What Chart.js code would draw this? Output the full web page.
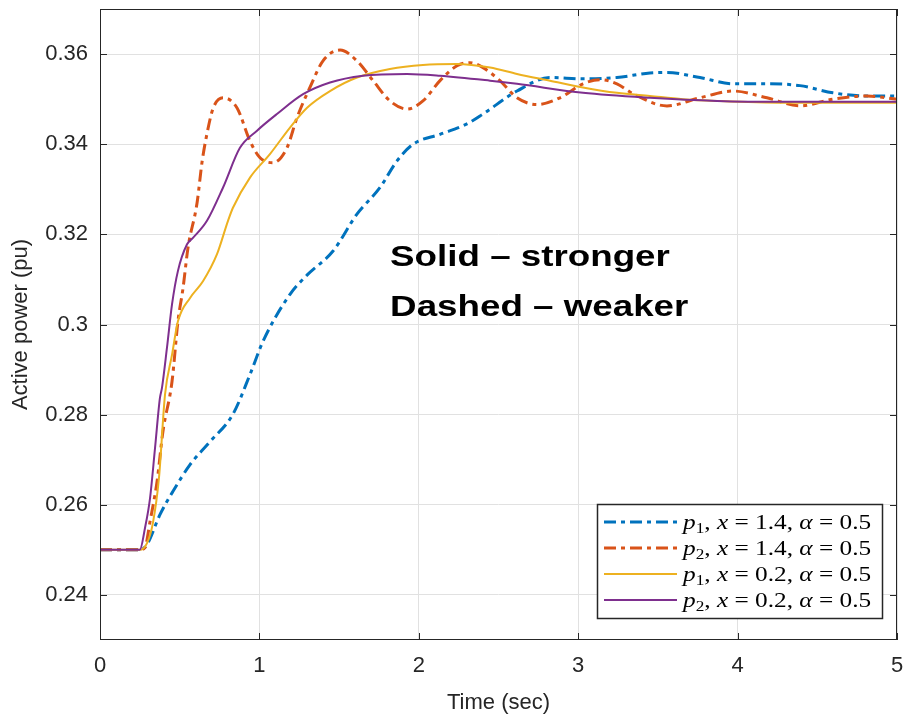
<!DOCTYPE html>
<html><head><meta charset="utf-8">
<script src="https://cdn.jsdelivr.net/npm/chart.js@4/dist/chart.umd.min.js"></script>
<style>html,body{margin:0;padding:0;background:#fff}#wrap{width:904px;height:717px}</style>
</head><body><div id="wrap"><canvas id="c" width="904" height="717"></canvas></div>
<script>
// ---- data ----
const xTicks = [0, 1, 2, 3, 4, 5];
const yTicks = [0.24, 0.26, 0.28, 0.30, 0.32, 0.34, 0.36];
const yTickLabels = ['0.24', '0.26', '0.28', '0.3', '0.32', '0.34', '0.36'];

// p1, x = 1.4 (weaker)
const tP1Weak = [0, 0.25, 0.295, 0.376, 0.458, 0.565, 0.69, 0.834, 0.941, 1.023, 1.192, 1.30, 1.462, 1.612, 1.757, 1.863, 1.964, 2.133, 2.302, 2.403, 2.616, 2.823, 3.03, 3.243, 3.45, 3.557, 3.764, 3.971, 4.184, 4.391, 4.598, 4.812, 5];
const vP1Weak = [0.25, 0.25, 0.2512, 0.2578, 0.2630, 0.2689, 0.2740, 0.2801, 0.2889, 0.2963, 0.3067, 0.3110, 0.3163, 0.3245, 0.3304, 0.3363, 0.3400, 0.3422, 0.3445, 0.3467, 0.3518, 0.3548, 0.3545, 0.3548, 0.3558, 0.3559, 0.3548, 0.3534, 0.3534, 0.3530, 0.3514, 0.3507, 0.3507];
// p2, x = 1.4 (weaker)
const tP2Weak = [0, 0.25, 0.282, 0.314, 0.358, 0.395, 0.452, 0.489, 0.521, 0.552, 0.609, 0.64, 0.671, 0.71, 0.772, 0.859, 0.941, 1.004, 1.085, 1.173, 1.236, 1.317, 1.399, 1.506, 1.612, 1.713, 1.819, 1.926, 2.026, 2.133, 2.24, 2.321, 2.403, 2.509, 2.616, 2.742, 2.886, 3.03, 3.137, 3.243, 3.344, 3.557, 3.764, 3.971, 4.184, 4.391, 4.598, 4.812, 5];
const vP2Weak = [0.25, 0.25, 0.2505, 0.2563, 0.2652, 0.2763, 0.2874, 0.3007, 0.3081, 0.3170, 0.3270, 0.3360, 0.3423, 0.3480, 0.3503, 0.3481, 0.3407, 0.3370, 0.3359, 0.3392, 0.3459, 0.3526, 0.3585, 0.3609, 0.3585, 0.3541, 0.3496, 0.3478, 0.3496, 0.3541, 0.3574, 0.3581, 0.3570, 0.3541, 0.3503, 0.3488, 0.3503, 0.3534, 0.3543, 0.3534, 0.3512, 0.3485, 0.3503, 0.3518, 0.3503, 0.3485, 0.3500, 0.3507, 0.3500];
// p1, x = 0.2 (stronger)
const tP1Strong = [0, 0.25, 0.295, 0.332, 0.37, 0.408, 0.452, 0.489, 0.565, 0.646, 0.734, 0.803, 0.834, 0.941, 1.066, 1.192, 1.299, 1.443, 1.612, 1.819, 2.026, 2.24, 2.447, 2.616, 2.823, 3.03, 3.243, 3.45, 3.657, 3.871, 4.285, 5];
const vP1Strong = [0.25, 0.25, 0.2515, 0.2560, 0.2660, 0.2845, 0.2933, 0.3007, 0.3059, 0.3096, 0.3156, 0.3230, 0.3259, 0.3326, 0.3378, 0.3437, 0.3481, 0.3518, 0.3548, 0.3567, 0.3576, 0.3578, 0.3570, 0.3556, 0.3541, 0.3526, 0.3514, 0.3507, 0.3500, 0.3496, 0.3492, 0.3492];
// p2, x = 0.2 (stronger)
const tP2Strong = [0, 0.25, 0.282, 0.314, 0.345, 0.376, 0.389, 0.42, 0.452, 0.489, 0.546, 0.583, 0.671, 0.772, 0.878, 0.985, 1.11, 1.274, 1.443, 1.65, 1.926, 2.133, 2.447, 2.616, 3.03, 3.45, 3.871, 4.285, 5];
const vP2Strong = [0.25, 0.25, 0.2548, 0.2615, 0.2725, 0.2837, 0.2860, 0.2948, 0.3045, 0.3119, 0.3178, 0.3192, 0.3230, 0.3304, 0.3392, 0.3430, 0.3467, 0.3511, 0.3537, 0.3552, 0.3556, 0.3552, 0.3541, 0.3534, 0.3514, 0.3503, 0.3496, 0.3494, 0.3494];

const seriesIndex = ['1', '2', '1', '2'];
const seriesX = ['1.4', '1.4', '0.2', '0.2'];
const seriesAlpha = ['0.5', '0.5', '0.5', '0.5'];
const noteLines = ['Solid \u2013 stronger', 'Dashed \u2013 weaker'];

const pts = (t, v) => t.map((tt, i) => ({x: tt, y: v[i]}));

const AX = '#262626';
const FONT = '"Liberation Sans", Arial, Helvetica, sans-serif';

const boxPlugin = {
  id: 'boxPlugin',
  afterDatasetsDraw(chart) {
    const {ctx, chartArea: a, scales: {x, y}} = chart;
    ctx.save();
    ctx.strokeStyle = AX;
    ctx.lineWidth = 1;
    ctx.strokeRect(Math.round(a.left) + 0.5, Math.round(a.top) + 0.5, Math.round(a.right - a.left) - 1, Math.round(a.bottom - a.top) - 1);
    const L = 7;
    ctx.beginPath();
    xTicks.forEach(v => {
      const px = Math.round(x.getPixelForValue(v)) + 0.5;
      ctx.moveTo(px, a.bottom); ctx.lineTo(px, a.bottom - L);
      ctx.moveTo(px, a.top); ctx.lineTo(px, a.top + L);
    });
    yTicks.forEach(v => {
      const py = Math.round(y.getPixelForValue(v)) + 0.5;
      ctx.moveTo(a.left, py); ctx.lineTo(a.left + L, py);
      ctx.moveTo(a.right, py); ctx.lineTo(a.right - L, py);
    });
    ctx.stroke();
    ctx.restore();

    // annotation text
    ctx.save();
    ctx.fillStyle = '#000';
    ctx.font = 'bold 30px ' + FONT;
    ctx.textBaseline = 'alphabetic';
    const nx = x.getPixelForValue(1.82);
    const ny = [y.getPixelForValue(0.3130), y.getPixelForValue(0.3019)];
    noteLines.forEach((s, i) => {
      ctx.save();
      ctx.translate(nx, ny[i]);
      ctx.scale(1.225, 1);
      ctx.fillText(s, 0, 0);
      ctx.restore();
    });
    ctx.restore();

    // legend
    const bw = 285, bh = 114;
    const bx = Math.round(a.right - 15 - bw), by = Math.round(a.bottom - 22 - bh);
    ctx.save();
    ctx.fillStyle = '#fff';
    ctx.fillRect(bx, by, bw, bh);
    ctx.strokeStyle = AX;
    ctx.lineWidth = 1.5;
    ctx.strokeRect(bx + 0.5, by + 0.5, bw, bh);
    chart.data.datasets.forEach((ds, i) => {
      const cy = by + 18 + i * 26;
      ctx.save();
      ctx.strokeStyle = ds.borderColor;
      ctx.lineWidth = ds.borderWidth;
      ctx.setLineDash(ds.borderDash || []);
      ctx.beginPath();
      ctx.moveTo(bx + 7, cy); ctx.lineTo(bx + 80, cy);
      ctx.stroke();
      ctx.restore();
      const parts = [
        {s: 'p', f: 'italic 22px "Liberation Serif", serif'},
        {s: seriesIndex[i], f: '15px "Liberation Serif", serif', dy: 4},
        {s: ', ', f: '22px "Liberation Serif", serif'},
        {s: 'x', f: 'italic 22px "Liberation Serif", serif'},
        {s: ' = ' + seriesX[i] + ', ', f: '22px "Liberation Serif", serif'},
        {s: '\u03B1', f: 'italic 22px "Liberation Serif", serif'},
        {s: ' = ' + seriesAlpha[i], f: '22px "Liberation Serif", serif'}
      ];
      ctx.save();
      ctx.fillStyle = '#000';
      ctx.translate(bx + 86, cy + 7);
      ctx.scale(1.15, 1);
      let px = 0;
      parts.forEach(p => {
        ctx.font = p.f;
        ctx.fillText(p.s, px, p.dy || 0);
        px += ctx.measureText(p.s).width;
      });
      ctx.restore();
    });
    ctx.restore();
  }
};

new Chart(document.getElementById('c'), {
  type: 'line',
  data: {
    datasets: [
      {label: 'p1, x = 1.4', data: pts(tP1Weak, vP1Weak), borderColor: '#0072BD', borderWidth: 3, borderDash: [12, 5, 4, 5], order: 3},
      {label: 'p2, x = 1.4', data: pts(tP2Weak, vP2Weak), borderColor: '#D95319', borderWidth: 3, borderDash: [12, 5, 4, 5], order: 2},
      {label: 'p1, x = 0.2', data: pts(tP1Strong, vP1Strong), borderColor: '#EDB120', borderWidth: 2, order: 1},
      {label: 'p2, x = 0.2', data: pts(tP2Strong, vP2Strong), borderColor: '#7E2F8E', borderWidth: 2, order: 0}
    ]
  },
  options: {
    responsive: false,
    animation: false,
    devicePixelRatio: 1,
    layout: {padding: {top: 9, right: 7, left: 0, bottom: 0}},
    elements: {point: {radius: 0}, line: {cubicInterpolationMode: 'monotone', fill: false}},
    plugins: {legend: {display: false}, tooltip: {enabled: false}},
    scales: {
      x: {
        type: 'linear', min: 0, max: 5,
        afterBuildTicks: s => { s.ticks = xTicks.map(v => ({value: v})); },
        afterFit: s => { s.height = 77; s.paddingLeft = 0; s.paddingRight = 0; },
        grid: {color: '#e1e1e1', drawTicks: false, lineWidth: 1},
        border: {display: false},
        ticks: {font: {family: FONT, size: 22}, color: AX, padding: 13, maxRotation: 0, autoSkip: false, callback: v => String(v)},
        title: {display: true, text: 'Time (sec)', font: {family: FONT, size: 22}, color: AX, padding: {top: 0, bottom: 1}}
      },
      y: {
        type: 'linear', min: 0.23, max: 0.37,
        afterBuildTicks: s => { s.ticks = yTicks.map(v => ({value: v})); },
        afterFit: s => { s.width = 100; s.paddingTop = 0; s.paddingBottom = 0; },
        grid: {color: '#e1e1e1', drawTicks: false, lineWidth: 1},
        border: {display: false},
        ticks: {font: {family: FONT, size: 22}, color: AX, padding: 12, autoSkip: false, callback: (v, i) => yTickLabels[i]},
        title: {display: true, text: 'Active power (pu)', font: {family: FONT, size: 22}, color: AX, padding: {top: 8, bottom: 0}}
      }
    }
  },
  plugins: [boxPlugin]
});
</script></body></html>
